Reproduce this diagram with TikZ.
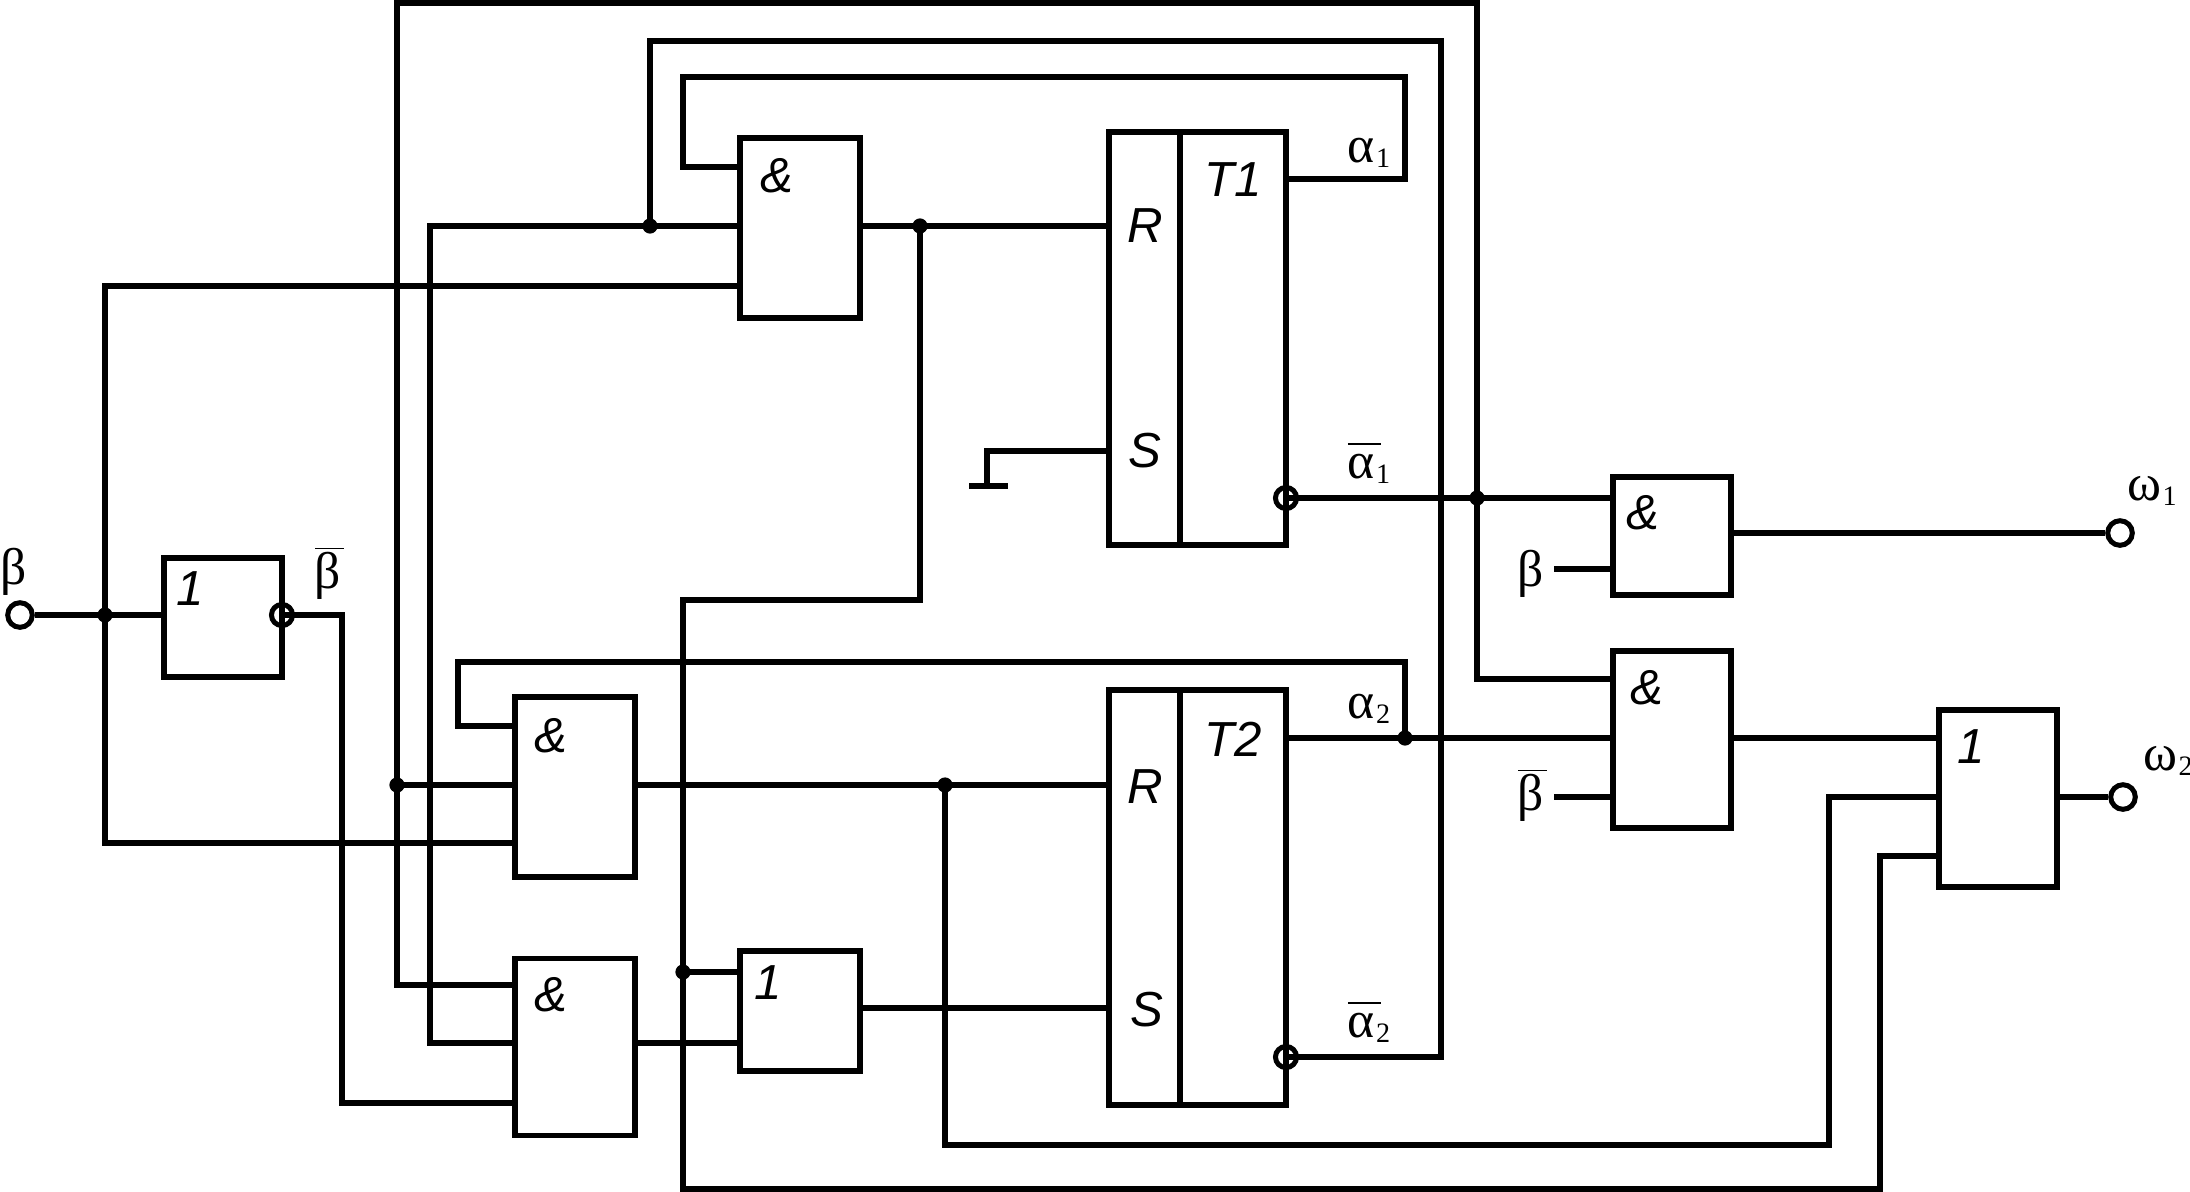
\documentclass[tikz,border=0pt]{standalone}
\usepackage{fontspec}
\setmainfont{Liberation Serif}
\newfontfamily\lsans[ItalicFont={Liberation Sans Italic}]{Liberation Sans}
\newcommand{\ovbar}[4]{\leavevmode\rlap{\hspace*{#1}\raisebox{#2}{\rule{#3}{1.5pt}}}#4}
\newcommand{\subn}[1]{\hspace{1pt}\raisebox{-5pt}{\fontsize{24}{24}\selectfont #1}}
\tikzset{
  gate/.style={draw,line width=5.6*0.853pt,rectangle,inner sep=0pt,outer sep=0pt},
  wire/.style={line width=5.4*0.853pt,miter limit=10},
  dotj/.style={circle,fill=black,inner sep=0pt,minimum size=13pt},
  term/.style={circle,draw,fill=white,line width=5*0.853pt,inner sep=0pt,minimum size=21pt},
  bub/.style={circle,draw,line width=5*0.853pt,inner sep=0pt,minimum size=18pt},
  sym/.style={font=\lsans\itshape\fontsize{42}{42}\selectfont,inner sep=0pt},
  grk/.style={font=\fontsize{44}{44}\selectfont,inner sep=0pt}
}
\begin{document}
\begin{tikzpicture}[x=0.03cm,y=-0.03cm]
\useasboundingbox (0,0) rectangle (2190,1191);
% gates
\node[gate,minimum width=120*0.853pt,minimum height=180*0.853pt] (a1) at (800,228) {};
\node[gate,minimum width=120*0.853pt,minimum height=180*0.853pt] (a2) at (575,787) {};
\node[gate,minimum width=120*0.853pt,minimum height=177*0.853pt] (a5) at (575,1047) {};
\node[gate,minimum width=120*0.853pt,minimum height=120*0.853pt] (o1) at (800,1011) {};
\node[gate,minimum width=118*0.853pt,minimum height=119*0.853pt] (inv) at (223,617.5) {};
\node[gate,minimum width=118*0.853pt,minimum height=118*0.853pt] (a3) at (1672,536) {};
\node[gate,minimum width=118*0.853pt,minimum height=177*0.853pt] (a4) at (1672,739.5) {};
\node[gate,minimum width=118*0.853pt,minimum height=177*0.853pt] (o2) at (1998,798.5) {};
\node[gate,minimum width=177*0.853pt,minimum height=413*0.853pt] (t1) at (1197.5,338.5) {};
\node[gate,minimum width=177*0.853pt,minimum height=415*0.853pt] (t2) at (1197.5,897.5) {};
\draw[wire] (t1.north west) ++(71,0) coordinate (t1d) -- (t1d |- t1.south);
\draw[wire] (t2.north west) ++(71,0) coordinate (t2d) -- (t2d |- t2.south);
% named points
\coordinate (a1i1) at (740,167); \coordinate (a1i2) at (740,226); \coordinate (a1i3) at (740,286);
\coordinate (a1o) at (860,226); \coordinate (t1r) at (1109,226); \coordinate (t1s) at (1109,451);
\coordinate (t1q) at (1286,179); \coordinate (t1n) at (1286,498);
\coordinate (t2r) at (1109,785); \coordinate (t2s) at (1109,1008);
\coordinate (t2q) at (1286,738); \coordinate (t2n) at (1286,1057);
\coordinate (a2i1) at (515,726); \coordinate (a2i2) at (515,785); \coordinate (a2i3) at (515,843);
\coordinate (a2o) at (635,785);
\coordinate (a5i1) at (515,985); \coordinate (a5i2) at (515,1043); \coordinate (a5i3) at (515,1103);
\coordinate (a5o) at (635,1043);
\coordinate (o1i1) at (740,972); \coordinate (o1i2) at (740,1043); \coordinate (o1o) at (860,1008);
\coordinate (a3i1) at (1613,498); \coordinate (a3i2) at (1613,569); \coordinate (a3o) at (1731,533);
\coordinate (a4i1) at (1613,679); \coordinate (a4i2) at (1613,738); \coordinate (a4i3) at (1613,797);
\coordinate (a4o) at (1731,738);
\coordinate (o2i1) at (1939,738); \coordinate (o2i2) at (1939,797); \coordinate (o2i3) at (1939,856);
\coordinate (o2o) at (2057,797);
\coordinate (invi) at (164,615); \coordinate (invo) at (282,615);
\coordinate (bst) at (1554,569); \coordinate (bnst) at (1554,797);
\coordinate (gnd) at (987,486); \coordinate (gl) at (969,486); \coordinate (gr) at (1008,486);
% junctions
\coordinate (j1) at (650,226); \coordinate (j2) at (920,226); \coordinate (j3) at (105,615);
\coordinate (j4) at (397,785); \coordinate (j5) at (945,785); \coordinate (j6) at (683,972);
\coordinate (j7) at (1405,738); \coordinate (j8) at (1477,498);
% wires
\draw[wire] (a1i1) -- (683,167) -- (683,77) -- (1405,77) -- (1405,179) -- (t1q);
\draw[wire] (a1i2) -- (430,226) -- (430,1043) -- (a5i2);
\draw[wire] (j1) -- (650,41) -- (1441,41) -- (1441,1057) -- (t2n);
\draw[wire] (a1i3) -- (105,286) -- (105,843) -- (a2i3);
\draw[wire] (a1o) -- (t1r);
\draw[wire] (j2) -- (920,600) -- (683,600) -- (683,1189) -- (1880,1189) -- (1880,856) -- (o2i3);
\draw[wire] (j6) -- (o1i1);
\draw[wire] (t1s) -- (987,451) -- (gnd);
\draw[wire] (gl) -- (gr);
\draw[wire] (t1n) -- (a3i1);
\draw[wire] (j8) -- (1477,3) -- (397,3) -- (397,985) -- (a5i1);
\draw[wire] (j8) -- (1477,679) -- (a4i1);
\draw[wire] (j4) -- (a2i2);
\draw[wire] (a2i1) -- (458,726) -- (458,662) -- (1405,662) -- (j7);
\draw[wire] (a2o) -- (t2r);
\draw[wire] (j5) -- (945,1145) -- (1829,1145) -- (1829,797) -- (o2i2);
\draw[wire] (t2q) -- (a4i2);
\draw[wire] (a4o) -- (o2i1);
\draw[wire] (a5o) -- (o1i2);
\draw[wire] (o1o) -- (t2s);
\draw[wire] (invo) -- (342,615) -- (342,1103) -- (a5i3);
\draw[wire] (bst) -- (a3i2);
\draw[wire] (bnst) -- (a4i3);
% terminals
\node[term] (tb) at (20,615) {};
\node[term] (tw1) at (2120,533) {};
\node[term] (tw2) at (2123,797) {};
\draw[wire] (tb) -- (invi);
\draw[wire] (a3o) -- (tw1);
\draw[wire] (o2o) -- (tw2);
\node[bub] (bi) at (invo) {};
\node[bub] (b1) at (t1n) {};
\node[bub] (b2) at (t2n) {};
\foreach \j in {j1,j2,j3,j4,j5,j6,j7,j8} \node[dotj] at (\j) {};
% labels
\node[sym] (l1) at (777,176) {\&};
\node[sym] (l2) at (551,736) {\&};
\node[sym] (l3) at (551,995) {\&};
\node[sym] (l4) at (1643,513) {\&};
\node[sym] (l5) at (1647,688) {\&};
\node[sym] (l6) at (190,589) {1};
\node[sym] (l7) at (768,983) {1};
\node[sym] (l8) at (1971,747) {1};
\node[sym] (l9) at (1233,180) {T1};
\node[sym] (l10) at (1233,739) {T2};
\node[sym] (l11) at (1145,226) {R};
\node[sym] (l12) at (1145,451) {S};
\node[sym] (l13) at (1145,787) {R};
\node[sym] (l14) at (1147,1010) {S};
% greek
\node[grk] (g1) at (14,572) {β};
\node[grk,anchor=base] (g2) at (328,588) {\ovbar{0.5pt}{33pt}{24pt}{β}};
\node[grk] (g3) at (1531,574) {β};
\node[grk,anchor=base] (g4) at (1531,810) {\ovbar{0.5pt}{33pt}{24pt}{β}};
\node[grk,anchor=base] (g5) at (1369,162) {α\subn{1}};
\node[grk,anchor=base] (g6) at (1369,478) {\ovbar{0pt}{28pt}{28pt}{α}\subn{1}};
\node[grk,anchor=base] (g7) at (1369,718) {α\subn{2}};
\node[grk,anchor=base] (g8) at (1369,1037) {\ovbar{0pt}{28pt}{28pt}{α}\subn{2}};
\node[grk,anchor=base] (g9) at (2152,500) {ω\subn{1}};
\node[grk,anchor=base] (g10) at (2168,770) {ω\subn{2}};
\end{tikzpicture}
\end{document}
